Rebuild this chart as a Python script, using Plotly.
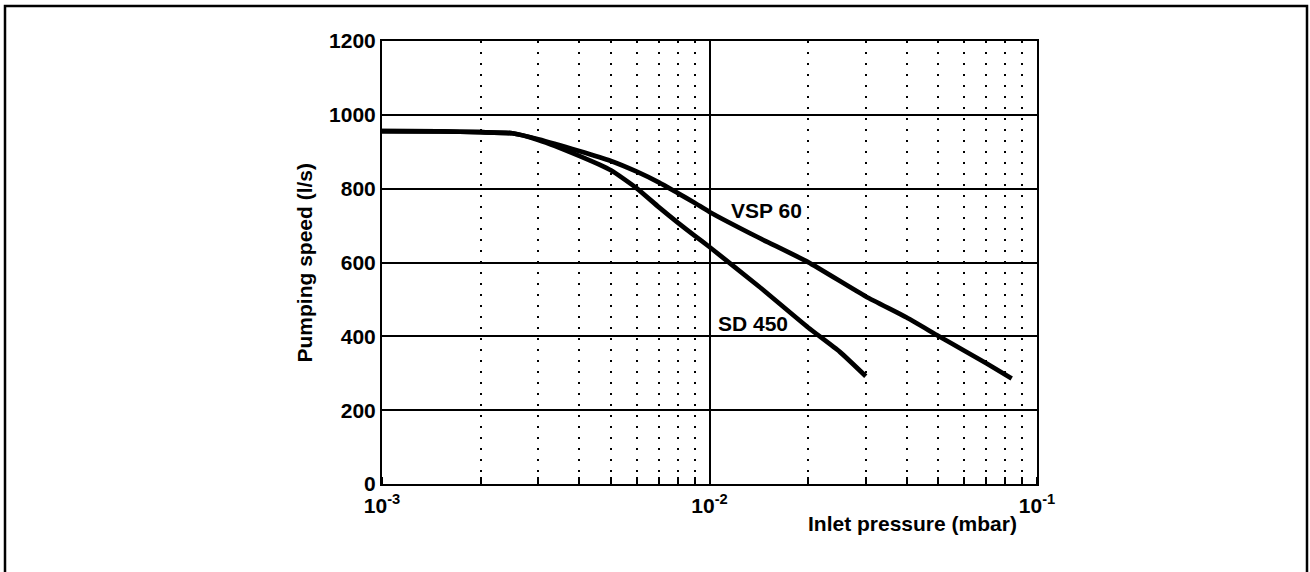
import math
import plotly.graph_objects as go

# Data
vsp_pressure = [0.001, 0.0015, 0.002, 0.0025, 0.003, 0.004, 0.005, 0.006, 0.007, 0.008, 0.009, 0.01,
                0.01416, 0.02, 0.03, 0.04, 0.05, 0.06, 0.07, 0.0837]
vsp_speed = [956, 955, 953, 950, 934, 902, 875, 846, 817, 788, 762, 737,
             667, 601, 508, 451, 401, 361, 327, 286]

sd_pressure = [0.001, 0.0015, 0.002, 0.0025, 0.003, 0.004, 0.005, 0.006, 0.007, 0.008, 0.009, 0.01,
               0.01416, 0.02, 0.025, 0.03]
sd_speed = [956, 955, 953, 950, 932, 889, 850, 801, 750, 708, 673, 642,
            535, 424, 358, 292]

series_names = ["VSP 60", "SD 450"]
label_pos_x = [0.01492, 0.01353]
label_pos_y = [741, 435]

x_tick_vals = [0.001, 0.01, 0.1]
x_tick_text = ["10<sup>-3</sup>", "10<sup>-2</sup>", "10<sup>-1</sup>"]
y_tick_vals = [0, 200, 400, 600, 800, 1000, 1200]

x_title = "Inlet pressure (mbar)"
y_title = "Pumping speed (l/s)"

FONT = "Liberation Sans, Arial, Helvetica, sans-serif"
FS = 21
W, H = 1310, 572
L, R, T, B = 382, 1037, 41, 484

fig = go.Figure()
fig.add_trace(go.Scatter(x=vsp_pressure, y=vsp_speed, mode="lines", name=series_names[0],
                         line=dict(color="black", width=4.7, shape="spline", smoothing=0.5)))
fig.add_trace(go.Scatter(x=sd_pressure, y=sd_speed, mode="lines", name=series_names[1],
                         line=dict(color="black", width=4.7, shape="spline", smoothing=0.5)))

for name, px, py in zip(series_names, label_pos_x, label_pos_y):
    fig.add_annotation(x=math.log10(px), y=py, xref="x", yref="y", text=name, showarrow=False,
                       xanchor="center", yanchor="middle",
                       font=dict(family=FONT, size=FS, color="black", weight="bold"))


def px2paper_x(p):
    return (p - L) / (R - L)


def px2paper_y(p):
    return (B - p) / (B - T)


fig.add_annotation(x=px2paper_x(912), y=px2paper_y(523), xref="paper", yref="paper", text=x_title,
                   xanchor="center", yanchor="middle",
                   showarrow=False, font=dict(family=FONT, size=FS, color="black", weight="bold"))
fig.add_annotation(x=px2paper_x(304), y=0.5, xref="paper", yref="paper", text=y_title, textangle=-90,
                   xanchor="center", yanchor="middle",
                   showarrow=False, font=dict(family=FONT, size=FS, color="black", weight="bold"))

# outer frame
fig.add_shape(type="rect", xref="paper", yref="paper",
              x0=px2paper_x(5), x1=px2paper_x(1307), y0=px2paper_y(600), y1=px2paper_y(6),
              line=dict(color="black", width=2.5), layer="below")

fig.update_layout(
    width=W, height=H,
    margin=dict(l=L, r=W - R, t=T, b=H - B),
    paper_bgcolor="white", plot_bgcolor="white",
    showlegend=False,
    font=dict(family=FONT, size=FS, color="black", weight="bold"),
)
fig.update_xaxes(
    type="log", range=[-3, -1],
    tickmode="array", tickvals=x_tick_vals, ticktext=x_tick_text,
    showgrid=True, gridcolor="black", gridwidth=2,
    showline=True, linecolor="black", linewidth=2, mirror=True,
    ticks="", zeroline=False, ticklabelstandoff=2,
    tickfont=dict(family=FONT, size=FS, color="black", weight="bold"),
    minor=dict(dtick="D1", showgrid=True, gridcolor="black", gridwidth=2, griddash="2px,9px",
               ticks="inside", ticklen=7, tickwidth=1.5, tickcolor="black"),
)
fig.update_yaxes(
    range=[0, 1200], tickmode="array", tickvals=y_tick_vals,
    showgrid=True, gridcolor="black", gridwidth=2,
    showline=True, linecolor="black", linewidth=2, mirror=True,
    ticks="", zeroline=False,
    tickfont=dict(family=FONT, size=FS, color="black", weight="bold"),
)

fig.write_html("out.html", config={"displayModeBar": False},
               post_script="document.body.style.margin='0px';")
